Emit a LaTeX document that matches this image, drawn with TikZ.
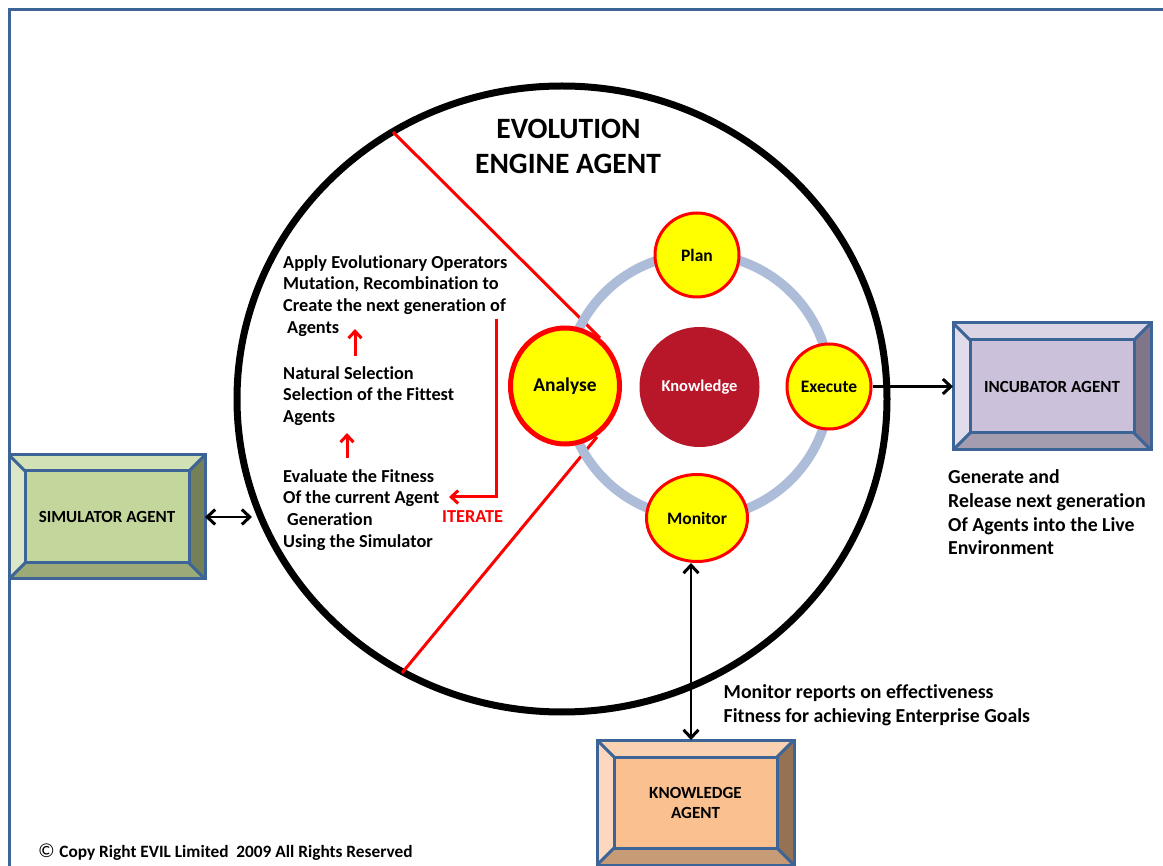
\documentclass[tikz,border=0pt]{standalone}
\usepackage{fontspec}
\setmainfont{Carlito}[Ligatures={NoCommon}]
\usetikzlibrary{shapes.geometric,arrows.meta,calc}

\definecolor{frameblue}{HTML}{3C6496}
\definecolor{ringblue}{HTML}{ADBCD9}
\definecolor{knowred}{HTML}{B8172A}
\definecolor{stageyellow}{HTML}{FFFF00}
\definecolor{hotred}{HTML}{FF0000}
% bevel palettes: C centre, T top, L left, R right, B bottom
\definecolor{simC}{HTML}{C3D69B}
\definecolor{simT}{HTML}{D3E1B6}
\definecolor{simL}{HTML}{DCE7C7}
\definecolor{simR}{HTML}{748158}
\definecolor{simB}{HTML}{9CAA77}
\definecolor{incC}{HTML}{CCC1DA}
\definecolor{incT}{HTML}{DBD4E5}
\definecolor{incL}{HTML}{E0DCEB}
\definecolor{incR}{HTML}{7F7689}
\definecolor{incB}{HTML}{A49CAF}
\definecolor{kagC}{HTML}{FAC090}
\definecolor{kagT}{HTML}{FBD2B1}
\definecolor{kagL}{HTML}{FCD9BE}
\definecolor{kagR}{HTML}{957253}
\definecolor{kagB}{HTML}{C79B76}

\tikzset{
  bevelline/.style={draw=frameblue, line width=3pt, line join=miter},
  boxtext/.style={font=\fontsize{17}{20}\selectfont\bfseries, align=center, text=black},
  bodyline/.style={font=\fontsize{18.3}{21.7}\selectfont\bfseries, anchor=base west, inner sep=0pt},
  noteline/.style={font=\fontsize{19.8}{23.6}\selectfont\bfseries, anchor=base west, inner sep=0pt},
  titleline/.style={font=\fontsize{29.5}{34}\selectfont\bfseries, anchor=base, inner sep=0pt},
  stage/.style={ellipse, fill=stageyellow, draw=hotred, line width=3pt, inner sep=0pt,
                font=\fontsize{17.5}{21}\selectfont\bfseries},
  blacklink/.style={line width=2.5pt, draw=black},
  redlink/.style={line width=3pt, draw=hotred},
  barb/.tip={Straight Barb[length=8pt, width=15pt, line width=3pt]},
  redbarb/.tip={Straight Barb[length=7pt, width=13pt]},
}

% A bevelled panel: name, palette prefix, centre, width, height, bevel depth, label
\newcommand{\bevelbox}[7]{%
  \node[minimum width=#4pt, minimum height=#5pt, inner sep=0pt, outer sep=0pt] (#1) at #3 {};
  \coordinate (#1-a) at ($(#1.north west)+(#6,#6)$);
  \coordinate (#1-b) at ($(#1.north east)+(-#6,#6)$);
  \coordinate (#1-c) at ($(#1.south east)+(-#6,-#6)$);
  \coordinate (#1-d) at ($(#1.south west)+(#6,-#6)$);
  \fill[#2T] (#1.north west) -- (#1.north east) -- (#1-b) -- (#1-a) -- cycle;
  \fill[#2L] (#1.north west) -- (#1-a) -- (#1-d) -- (#1.south west) -- cycle;
  \fill[#2R] (#1.north east) -- (#1.south east) -- (#1-c) -- (#1-b) -- cycle;
  \fill[#2B] (#1.south west) -- (#1-d) -- (#1-c) -- (#1.south east) -- cycle;
  \fill[#2C] (#1-a) rectangle (#1-c);
  \draw[bevelline] (#1.north west) rectangle (#1.south east);
  \draw[bevelline] (#1-a) rectangle (#1-c);
  \draw[bevelline] (#1.north west) -- (#1-a) (#1.north east) -- (#1-b)
                   (#1.south east) -- (#1-c) (#1.south west) -- (#1-d);
  \node[boxtext] (#1-label) at (#1.center) {#7};
}

\begin{document}
\begin{tikzpicture}[x=1pt, y=-1pt]
  \useasboundingbox[fill=white] (0,0) rectangle (1163,866);

  % page frame (top and left edges)
  \draw[frameblue, line width=3pt, line join=miter] (9,866) -- (9,10) -- (1163,10);

  % the evolution engine
  \node[ellipse, draw=black, line width=7pt, minimum width=650pt, minimum height=626pt,
        inner sep=0pt] (engine) at (562,399) {};

  % dividing red chords
  \coordinate (chordA1) at (393,132);
  \coordinate (chordA2) at (600,338);
  \coordinate (chordB1) at (597,437);
  \coordinate (chordB2) at (402,673);
  \draw[redlink] (chordA1) -- (chordA2);
  \draw[redlink] (chordB1) -- (chordB2);

  % cycle ring
  \draw[ringblue, line width=9.5pt] (698,386) circle[radius=132];

  % stages of the cycle
  \node[circle, fill=knowred, minimum size=120pt, inner sep=0pt, text=white,
        font=\fontsize{16.5}{19}\selectfont\bfseries] (know) at (699.5,387) {Knowledge};
  \node[stage, minimum width=84pt, minimum height=84pt] (plan) at (697,255) {Plan};
  \node[stage, minimum width=84pt, minimum height=85pt] (exec) at (829,386.5) {Execute};
  \node[stage, minimum width=101pt, minimum height=87pt] (mon) at (697,518) {Monitor};
  \node[stage, line width=5pt, minimum width=109pt, minimum height=116pt,
        font=\fontsize{19.5}{23}\selectfont\bfseries] (ana) at (565,386) {Analyse};

  % title
  \node[titleline] (title1) at (568.5,138.5) {EVOLUTION};
  \node[titleline] (title2) at (568,173.5) {ENGINE AGENT};

  % evolutionary steps
  \node[bodyline] (op1) at (283,268.3) {Apply Evolutionary Operators};
  \node[bodyline] (op2) at (283,290) {Mutation, Recombination to};
  \node[bodyline] (op3) at (283,311.7) {Create the next generation of};
  \node[bodyline] (op4) at (287,333.2) {Agents};
  \node[bodyline] (sel1) at (283,379.3) {Natural Selection};
  \node[bodyline] (sel2) at (283,401) {Selection of the Fittest};
  \node[bodyline] (sel3) at (283,422.7) {Agents};
  \node[bodyline] (ev1) at (283,482.3) {Evaluate the Fitness};
  \node[bodyline] (ev2) at (283,504) {Of the current Agent};
  \node[bodyline] (ev3) at (287,525.5) {Generation};
  \node[bodyline] (ev4) at (283,547.4) {Using the Simulator};
  \node[bodyline, text=hotred] (iter) at (442,522.7) {ITERATE};

  % step arrows and the iterate loop
  \coordinate (up1s) at (355,356);
  \coordinate (up1e) at (355,329);
  \coordinate (up2s) at (347,458);
  \coordinate (up2e) at (347,433);
  \coordinate (loopTop) at (496,319);
  \coordinate (loopEnd) at (449,497);
  \draw[redlink, -{redbarb}] (up1s) -- (up1e);
  \draw[redlink, -{redbarb}] (up2s) -- (up2e);
  \draw[redlink, line join=miter, -{redbarb}] (loopTop) |- (loopEnd);

  % surrounding agents
  \bevelbox{sim}{sim}{(107,517)}{196}{124}{16}{SIMULATOR AGENT}
  \bevelbox{inc}{inc}{(1052,386.5)}{198}{127}{17}{INCUBATOR AGENT}
  \bevelbox{kag}{kag}{(695.5,802.5)}{197}{125}{17}{KNOWLEDGE\\AGENT}

  % links between the engine and the agents
  \coordinate (simlink) at (252,517);
  \draw[blacklink, {barb}-{barb}] (sim.east) -- (simlink);
  \draw[blacklink, -{barb}] (exec.east) -- (exec.east -| inc.west);
  \draw[blacklink, {barb}-{barb}] ($(mon.south)+(-6,0)$) -- ($(kag.north)+(-4.5,0)$);

  % notes
  \node[noteline] (gen1) at (948,484) {Generate and};
  \node[noteline] (gen2) at (948,507.6) {Release next generation};
  \node[noteline] (gen3) at (948,531.2) {Of Agents into the Live};
  \node[noteline] (gen4) at (948,554.8) {Environment};
  \node[noteline] (rep1) at (723.5,698.3) {Monitor reports on effectiveness};
  \node[noteline] (rep2) at (723.5,722.3) {Fitness for achieving Enterprise Goals};

  % copyright line
  \node[anchor=base west, inner sep=0pt, font=\fontsize{17.3}{20}\selectfont\bfseries]
    (copy) at (38,857) {\normalfont\fontsize{20}{20}\selectfont ©\ \bfseries\fontsize{17.3}{20}\selectfont Copy Right EVIL Limited\ \ 2009 All Rights Reserved};
\end{tikzpicture}
\end{document}
